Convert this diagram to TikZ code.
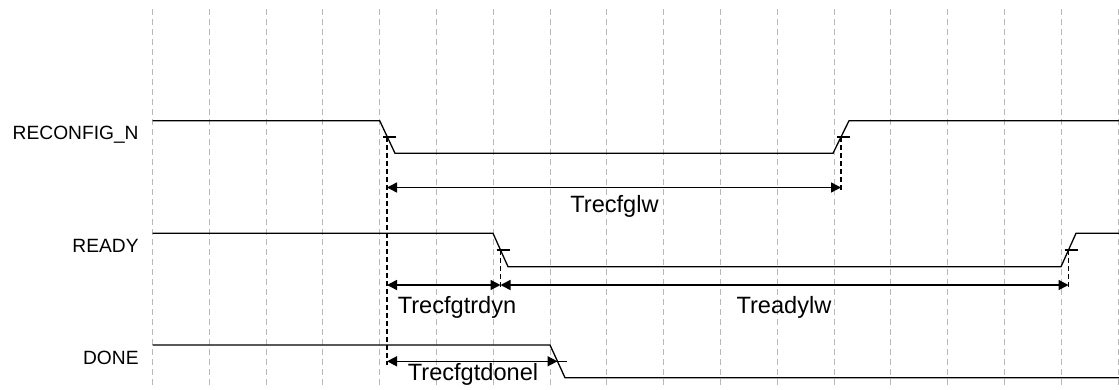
\documentclass[tikz,border=0pt]{standalone}
\usepackage{fontspec}
\setmainfont{Liberation Sans}
\usetikzlibrary{arrows.meta}

\begin{document}
\begin{tikzpicture}[
  x=0.5pt, y=-0.5pt,
  gridln/.style={draw=black!28, line width=.5pt, dash pattern=on 3pt off 2pt},
  sig/.style={draw=black, line width=.65pt},
  guide/.style={draw=black, line width=.7pt, dash pattern=on 2.5pt off 1.5pt},
  tarr/.style={{Triangle[length=5pt,width=5pt]}-{Triangle[length=5pt,width=5pt]}, line width=.75pt, draw=black},
  signame/.style={anchor=east, inner sep=0pt, font=\fontsize{9.6}{11}\selectfont},
  tlab/.style={anchor=base, inner sep=0pt, font=\fontsize{11.8}{14}\selectfont}
]
\useasboundingbox (0,0) rectangle (1119,390);

% time grid
\foreach \i in {0,...,17}
  \draw[gridln] (152.5+56.8*\i,9) -- (152.5+56.8*\i,386);

% signal names
\node[signame] (nrcf) at (139,134.5) {RECONFIG\_N};
\node[signame] (nrdy) at (139,246) {READY};
\node[signame] (ndone) at (139,358) {DONE};

% waveforms
\draw[sig] (152.5,120.7) -- (379.7,120.7) -- (395,153.3) -- (833,153.3) -- (849,120.7) -- (1119,120.7);
\draw[sig] (152.5,233.3) -- (493,233.3) -- (508,266.7) -- (1061,266.7) -- (1076,233.3) -- (1119,233.3);
\draw[sig] (152.5,345) -- (550,345) -- (565,377.7) -- (1119,377.7);

% edge midpoints and arrow rows
\coordinate (rcf) at (387,137);
\coordinate (rcr) at (841,137);
\coordinate (rdf) at (500.5,250);
\coordinate (rdr) at (1068.5,250);
\coordinate (dnf) at (557.5,361.3);
\coordinate (row1) at (0,187.5);
\coordinate (row2) at (0,285);
\coordinate (row3) at (0,361.3);
\coordinate (end1) at (0,365);
\coordinate (end2) at (0,190);
\coordinate (end3) at (0,288);

% edge ticks
\foreach \e in {rcf,rcr,rdf,rdr,dnf}
  \draw[sig] ([xshift=-2pt]\e) -- ([xshift=4.5pt]\e);

% reference lines
\draw[guide] (rcf) -- (rcf |- end1);
\draw[guide] (rcr) -- (rcr |- end2);
\draw[guide] (rdf) -- (rdf |- end3);
\draw[guide] (rdr) -- (rdr |- end3);

% timing spans
\draw[tarr] (rcf |- row1) -- (rcr |- row1);
\draw[tarr] (rcf |- row2) -- (rdf |- row2);
\draw[tarr] (rdf |- row2) -- (rdr |- row2);
\draw[tarr] (rcf |- row3) -- (dnf |- row3);

\node[tlab] (tglw) at (614.5,213) {Trecfglw};
\node[tlab] (trdyn) at (457,313) {Trecfgtrdyn};
\node[tlab] (trlw) at (784,313) {Treadylw};
\node[tlab] (tdone) at (473,380) {Trecfgtdonel};
\end{tikzpicture}
\end{document}
